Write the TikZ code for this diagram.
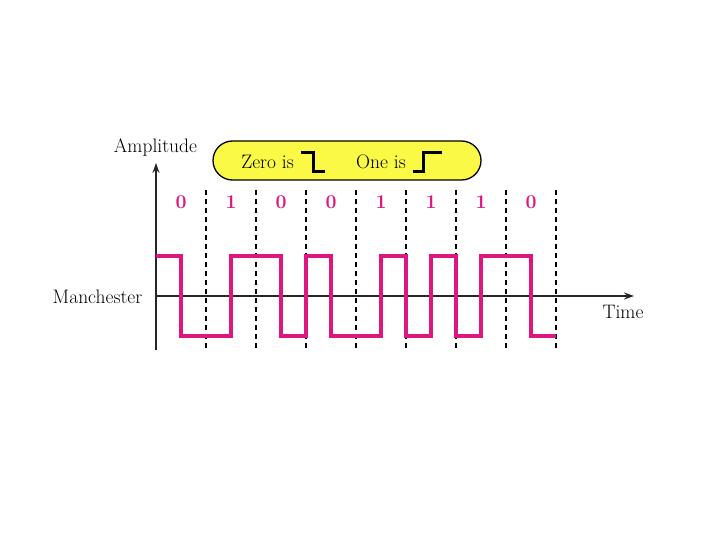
\documentclass[tikz,border=0pt]{standalone}
\usepackage{fontspec}
\setmainfont{Latin Modern Roman}
\usetikzlibrary{arrows.meta}
\definecolor{sig}{RGB}{222,22,128}
\definecolor{boxy}{RGB}{250,250,70}
\begin{document}
\begin{tikzpicture}[x=1pt,y=-1pt,
  axis/.style={line width=1.8pt,draw=black!85,-{Stealth[length=10pt,width=7pt]}},
  divider/.style={line width=1.2pt,dash pattern=on 5pt off 4pt,draw=black},
  wave/.style={line width=4.5pt,draw=sig,line join=miter},
  bitlbl/.style={text=sig,font=\fontsize{19.5}{21}\selectfont\bfseries,inner sep=0pt},
  lbl/.style={font=\fontsize{19.5}{21}\selectfont,inner sep=0pt},
  glyph/.style={line width=3pt,draw=black,line join=miter}]
\useasboundingbox (0,0) rectangle (720,540);
% box
\node[draw=black,line width=1.3pt,fill=boxy,rounded corners=19.5pt,minimum width=268pt,minimum height=39pt,inner sep=0pt] (legend) at (347,160.5) {};
\node[lbl,anchor=east] (zero) at (294,162) {Zero is};
\node[lbl,anchor=east] (one) at (406,162) {One is};
\draw[glyph] (301,153) -- (313,153) -- (313,172) -- (325,172);
\draw[glyph] (413,172) -- (423,172) -- (423,153) -- (442,153);
% axes
\coordinate (ybot) at (156,350);
\coordinate (ytop) at (156,163);
\coordinate (xend) at (634,296);
\coordinate (xstart) at (156,296);
\draw[axis] (ybot) -- (ytop);
\draw[axis] (xstart) -- (xend);
\node[lbl] (amp) at (155.5,148) {Amplitude};
\node[lbl] (man) at (97.5,297) {Manchester};
\node[lbl] (time) at (623,312) {Time};
% dividers
\foreach \i in {0,...,7}{
  \draw[divider] ({206+50*\i},190) -- ({206+50*\i},351);
}
% bit labels
\foreach \b [count=\i from 0] in {0,1,0,0,1,1,1,0}{
  \node[bitlbl] (b\i) at ({181+50*\i},202) {\b};
}
% signal
\draw[wave] (156,256) -- (181,256) -- (181,336) -- (231,336) -- (231,256)
  -- (281,256) -- (281,336) -- (306,336) -- (306,256) -- (331,256) -- (331,336)
  -- (381,336) -- (381,256) -- (406,256) -- (406,336) -- (431,336) -- (431,256)
  -- (456,256) -- (456,336) -- (481,336) -- (481,256) -- (531,256) -- (531,336)
  -- (556,336);
\end{tikzpicture}
\end{document}
